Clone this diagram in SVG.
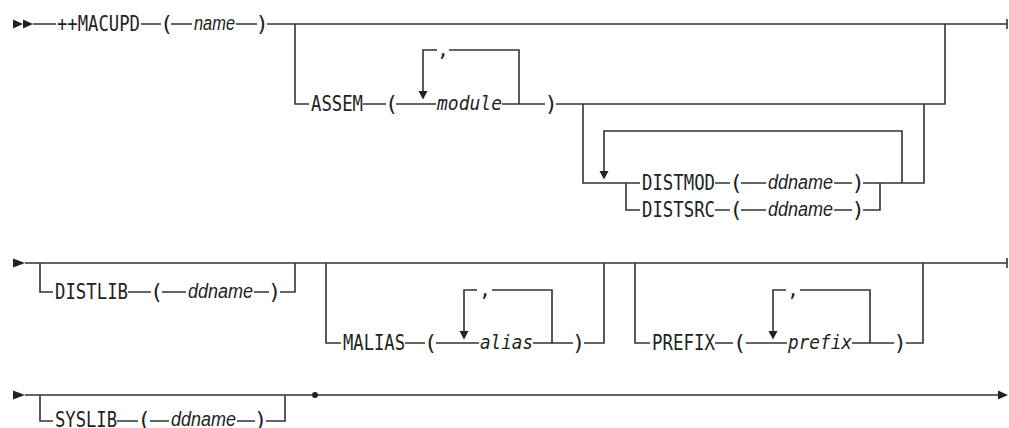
<svg xmlns="http://www.w3.org/2000/svg" width="1009" height="428" viewBox="0 0 1009 428">
<style>
.l{fill:none;stroke:#333;stroke-width:1.6}
.a{fill:#222;stroke:none}
.k{font-family:"DejaVu Sans Mono","Liberation Mono",monospace;font-size:22px;fill:#222}
.p{font-family:"DejaVu Sans Mono","Liberation Mono",monospace;font-size:22px;fill:#222;text-anchor:middle}
.v{font-family:"Liberation Sans",Arial,sans-serif;font-style:italic;font-size:20px;fill:#222}
.m{font-family:"DejaVu Sans Mono","Liberation Mono",monospace;font-style:italic;font-size:20px;fill:#222}
.c{font-family:"DejaVu Sans Mono","Liberation Mono",monospace;font-size:20px;fill:#222;text-anchor:middle}
</style>
<rect width="1009" height="428" fill="#fff"/>
<g id="connectors">
<polygon class="a" points="13,19.5 23,24 13,28.5"/>
<polygon class="a" points="23,19.5 33,24 23,28.5"/>
<path class="l" d="M33,24 H56 M141,24 H161 M171,24 H192 M236,24 H257 M267,24 H1007 M1007,19 V29"/>
<path class="l" d="M295,24 V104 H309 M363,104 H386 M396,104 H436 M502,104 H545 M556,104 H945 V24"/>
<path class="l" d="M423,94 V50 H437 M449,50 H519 V104"/>
<polygon class="a" points="418.5,91 427.5,91 423,99.5"/>
<path class="l" d="M583,104 V183 H640 M604,174 V131 H902 V183 M626,183 V210 H640"/>
<polygon class="a" points="599.5,171 608.5,171 604,179.5"/>
<path class="l" d="M715,183 H730 M741,183 H766 M834,183 H852 M863,183 H924 V104"/>
<path class="l" d="M715,210 H730 M741,210 H766 M834,210 H852 M863,210 H880 V183"/>
<polygon class="a" points="13,258.5 25,263 13,267.5"/>
<path class="l" d="M25,263 H1007 M1007,258 V268"/>
<path class="l" d="M40,263 V292 H53 M128,292 H151 M162,292 H186 M254,292 H269 M280,292 H295 V263"/>
<path class="l" d="M326,263 V343 H341 M405,343 H425 M436,343 H479 M533,343 H573 M584,343 H604 V263"/>
<path class="l" d="M464,335 V290 H477 M492,290 H552 V343"/>
<polygon class="a" points="459.5,331 468.5,331 464,339.5"/>
<path class="l" d="M635,263 V343 H650 M715,343 H733 M746,343 H787 M852,343 H894 M906,343 H923 V263"/>
<path class="l" d="M773,335 V290 H786 M800,290 H870 V343"/>
<polygon class="a" points="768.5,331 777.5,331 773,339.5"/>
<polygon class="a" points="13,390.5 25,395 13,399.5"/>
<path class="l" d="M25,395 H312 M40,395 V421 H53 M117,421 H138 M150,421 H169 M237,421 H255 M266,421 H285 V395"/>
<circle class="a" cx="315" cy="395" r="3"/>
<path class="l" d="M318,395 H999"/>
<polygon class="a" points="998,390.5 1008,395 998,399.5"/>
</g>
<g id="macupd"><text class="k" x="57" y="31" textLength="83" lengthAdjust="spacingAndGlyphs">++MACUPD</text></g>
<g id="macupd-name"><text class="p" x="166.5" y="31">(</text><text class="v" x="194" y="30" textLength="41" lengthAdjust="spacingAndGlyphs">name</text><text class="p" x="262" y="31">)</text></g>
<g id="assem"><text class="k" x="311" y="111" textLength="52" lengthAdjust="spacingAndGlyphs">ASSEM</text><text class="p" x="391.5" y="111">(</text><text class="m" x="437" y="110" textLength="65" lengthAdjust="spacingAndGlyphs">module</text><text class="p" x="551" y="111">)</text><text class="c" x="443" y="56">,</text></g>
<g id="distmod"><text class="k" x="642" y="190" textLength="73" lengthAdjust="spacingAndGlyphs">DISTMOD</text><text class="p" x="736" y="190">(</text><text class="v" x="768" y="189" textLength="65" lengthAdjust="spacingAndGlyphs">ddname</text><text class="p" x="858" y="190">)</text></g>
<g id="distsrc"><text class="k" x="642" y="217" textLength="73" lengthAdjust="spacingAndGlyphs">DISTSRC</text><text class="p" x="736" y="217">(</text><text class="v" x="768" y="216" textLength="65" lengthAdjust="spacingAndGlyphs">ddname</text><text class="p" x="858" y="217">)</text></g>
<g id="distlib"><text class="k" x="55" y="299" textLength="73" lengthAdjust="spacingAndGlyphs">DISTLIB</text><text class="p" x="156.5" y="299">(</text><text class="v" x="188" y="298" textLength="65" lengthAdjust="spacingAndGlyphs">ddname</text><text class="p" x="274.5" y="299">)</text></g>
<g id="malias"><text class="k" x="343" y="350" textLength="62" lengthAdjust="spacingAndGlyphs">MALIAS</text><text class="p" x="430.5" y="350">(</text><text class="m" x="480" y="349" textLength="53" lengthAdjust="spacingAndGlyphs">alias</text><text class="p" x="578.5" y="350">)</text><text class="c" x="485" y="296">,</text></g>
<g id="prefix"><text class="k" x="652" y="350" textLength="63" lengthAdjust="spacingAndGlyphs">PREFIX</text><text class="p" x="739.5" y="350">(</text><text class="m" x="788" y="349" textLength="64" lengthAdjust="spacingAndGlyphs">prefix</text><text class="p" x="900" y="350">)</text><text class="c" x="793" y="296">,</text></g>
<g id="syslib"><text class="k" x="55" y="427" textLength="62" lengthAdjust="spacingAndGlyphs">SYSLIB</text><text class="p" x="144" y="427">(</text><text class="v" x="171" y="426" textLength="65" lengthAdjust="spacingAndGlyphs">ddname</text><text class="p" x="260.5" y="427">)</text></g>
</svg>
